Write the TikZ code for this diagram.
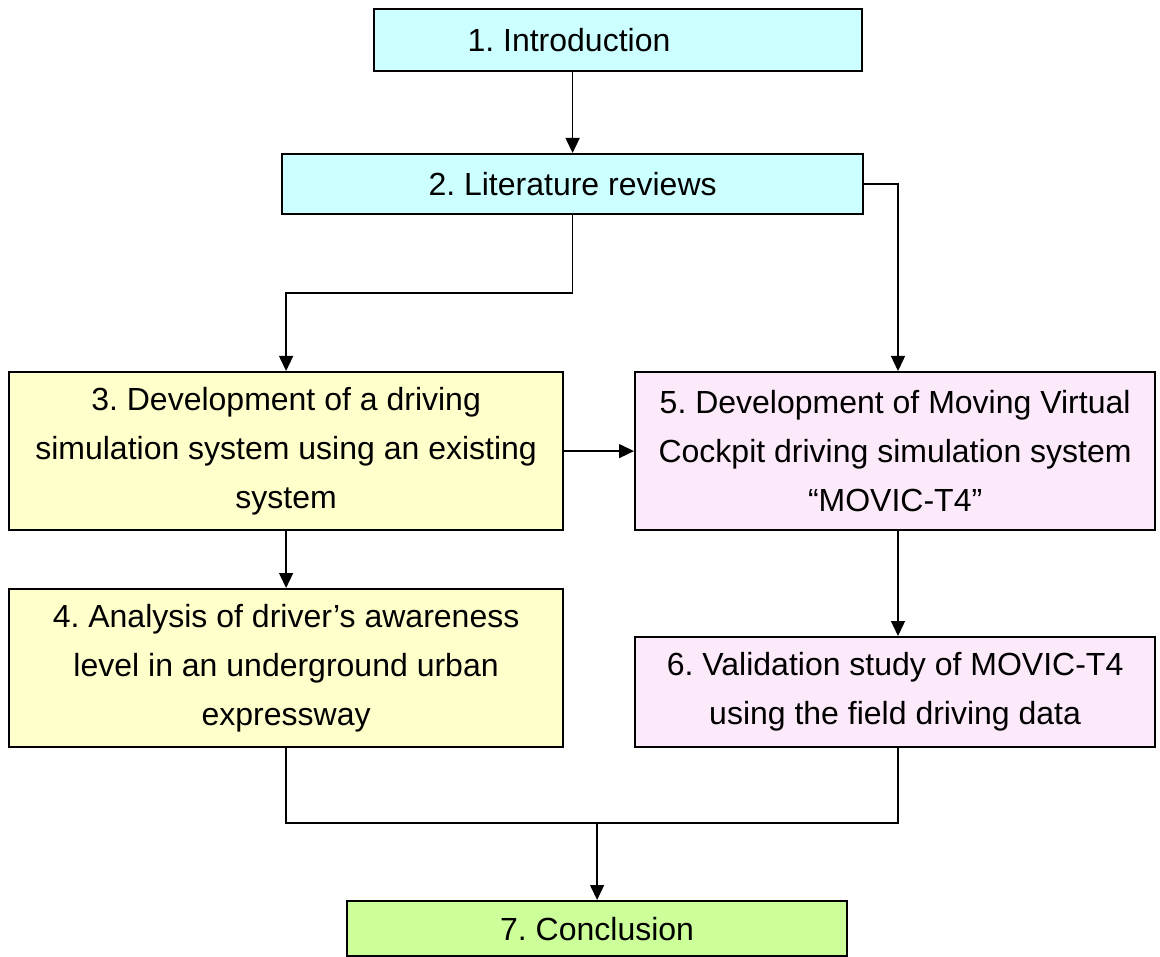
\documentclass[tikz,border=0pt]{standalone}
\usepackage{fontspec}
\setmainfont{Liberation Sans}
\usetikzlibrary{arrows.meta,calc}
\frenchspacing
\definecolor{cyanbox}{HTML}{CCFFFF}
\definecolor{yelbox}{HTML}{FFFFCC}
\definecolor{pinkbox}{HTML}{FCE9F9}
\definecolor{grnbox}{HTML}{CCFF99}
\tikzset{
  x=1pt, y=1pt,
  box/.style={draw=black, line width=2.2pt, anchor=north west, inner sep=0pt,
    align=center, font=\fontsize{32}{49}\selectfont},
  lbl/.style={inner sep=0pt, font=\fontsize{32}{49}\selectfont},
  conn/.style={line width=1.4pt, draw=black},
  arr/.style={conn, -{Triangle[length=15pt,width=14pt]}}
}
\begin{document}
\begin{tikzpicture}
\useasboundingbox (0,0) rectangle (1160,-957);
% boxes
\node[box, fill=cyanbox, minimum width=488pt, minimum height=62pt] (b1) at (373,-8) {};
\node[lbl] (t1) at (569,-40) {1. Introduction};
\node[box, fill=cyanbox, minimum width=581pt, minimum height=60pt] (b2) at (281,-153) {2. Literature reviews};
\node[box, fill=yelbox, minimum width=554pt, minimum height=158pt] (b3) at (8,-371)
  {3. Development of a driving\\simulation system using an existing\\system};
\node[box, fill=pinkbox, minimum width=520pt, minimum height=158pt] (b5) at (634,-371)
  {5. Development of Moving Virtual\\Cockpit driving simulation system\\“MOVIC-T4”};
\node[box, fill=yelbox, minimum width=554pt, minimum height=158pt] (b4) at (8,-588)
  {4. Analysis of driver’s awareness\\level in an underground urban\\expressway};
\node[box, fill=pinkbox, minimum width=520pt, minimum height=110pt] (b6) at (634,-636)
  {6. Validation study of MOVIC-T4\\using the field driving data};
\node[box, fill=grnbox, minimum width=500pt, minimum height=55pt] (b7) at (346,-900) {7. Conclusion};
% helper coordinates
\coordinate (j1) at (b2.south |- 0,-293);
\coordinate (k5t) at ($(b5.north west)+(264,0)$);
\coordinate (k5b) at ($(b5.south west)+(264,0)$);
\coordinate (k6t) at ($(b6.north west)+(264,0)$);
\coordinate (k6b) at ($(b6.south west)+(264,0)$);
\coordinate (j2) at (b4.south |- 0,-823);
\coordinate (j3) at (k6b |- 0,-823);
\coordinate (j4) at (b7.north |- 0,-823);
% connectors
\draw[arr] (b1.south -| b2.north) -- (b2.north);
\draw[arr] (b2.south) -- (j1) -| (b3.north);
\draw[arr] (b2.east) -| (k5t);
\draw[arr] (b3.east) -- (b5.west);
\draw[arr] (b3.south) -- (b4.north);
\draw[arr] (k5b) -- (k6t);
\draw[conn] (b4.south) -- (j2) -- (j3) -- (k6b);
\draw[arr] (j4) -- (b7.north);
\end{tikzpicture}
\end{document}
